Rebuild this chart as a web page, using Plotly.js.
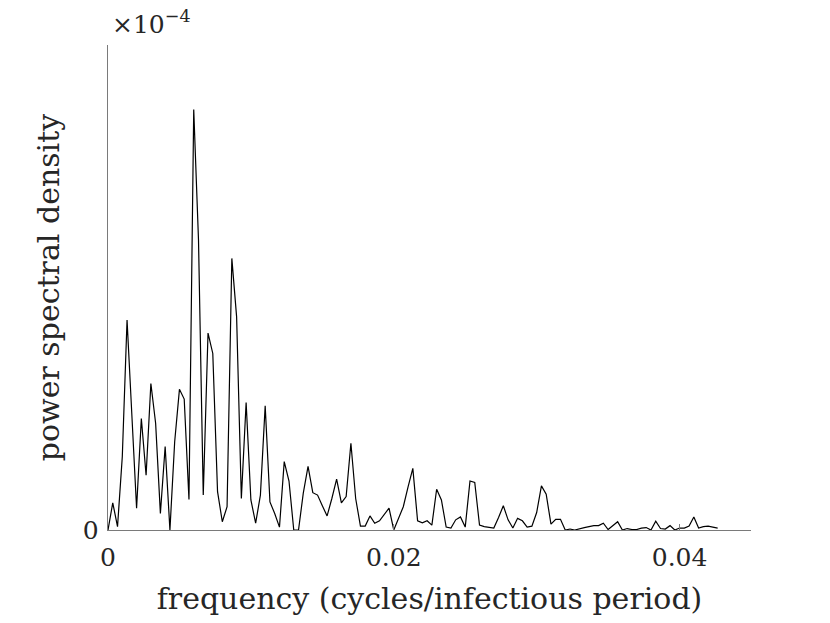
<!DOCTYPE html>
<html>
<head>
<meta charset="utf-8">
<script src="https://cdn.plot.ly/plotly-3.0.1.min.js"></script>
<style>html,body{margin:0;padding:0;background:#fff;}#chart{width:830px;height:623px;}</style>
</head>
<body>
<div id="chart"></div>
<script>
// frequency grid: first bin and bin width (cycles / infectious period)
const freqStart = 0;
const freqStep = 1 / 3000;
// power spectral density, in units of 1e-4
const psd = [
  0.000, 0.056, 0.007, 0.151, 0.433, 0.227, 0.045, 0.230, 0.113, 0.302,
  0.220, 0.034, 0.172, 0.000, 0.182, 0.290, 0.270, 0.063, 0.867, 0.598,
  0.072, 0.406, 0.364, 0.079, 0.017, 0.048, 0.560, 0.440, 0.065, 0.263,
  0.062, 0.014, 0.072, 0.256, 0.058, 0.034, 0.006, 0.141, 0.101, 0.000,
  0.000, 0.076, 0.131, 0.077, 0.072, 0.050, 0.029, 0.065, 0.105, 0.056,
  0.069, 0.179, 0.065, 0.008, 0.008, 0.029, 0.014, 0.019, 0.031, 0.045,
  0.000, 0.024, 0.048, 0.089, 0.127, 0.019, 0.015, 0.019, 0.010, 0.084,
  0.062, 0.006, 0.004, 0.021, 0.027, 0.006, 0.101, 0.098, 0.010, 0.007,
  0.006, 0.004, 0.026, 0.050, 0.021, 0.004, 0.024, 0.019, 0.006, 0.008,
  0.036, 0.091, 0.074, 0.012, 0.022, 0.022, 0.000, 0.002, 0.000, 0.003,
  0.005, 0.007, 0.009, 0.009, 0.014, 0.001, 0.010, 0.017, 0.000, 0.003,
  0.001, 0.001, 0.004, 0.005, 0.000, 0.018, 0.003, 0.002, 0.009, 0.000,
  0.004, 0.004, 0.008, 0.027, 0.004, 0.007, 0.008, 0.006, 0.004
];
const xTickVals = [0, 0.02, 0.04];
const xTickText = ['0', '0.02', '0.04'];
const yTickVals = [0];
const yTickText = ['0'];
const xTitle = 'frequency (cycles/infectious period)';
const yTitle = 'power spectral density';
const exponentLabel = '×10<sup>−4</sup>';

const FONT = '"DejaVu Serif", "Liberation Serif", serif';
const AX = '#7a7a7a';
const TXT = '#262626';

const trace = {
  type: 'scatter', mode: 'lines',
  x0: freqStart, dx: freqStep,
  y: psd,
  line: {color: '#000', width: 1.2},
  hoverinfo: 'skip'
};

const layout = {
  width: 830, height: 623,
  margin: {l: 108, r: 78.5, t: 45, b: 93, pad: 0},
  paper_bgcolor: '#fff', plot_bgcolor: '#fff',
  showlegend: false,
  font: {family: FONT, size: 25, color: TXT},
  xaxis: {
    range: [0, 0.045], showgrid: false, zeroline: false,
    showline: true, linecolor: AX, linewidth: 1.3, mirror: false,
    ticks: 'inside', ticklen: 6, tickcolor: AX, tickwidth: 1,
    tickmode: 'array', tickvals: xTickVals, ticktext: xTickText,
    tickfont: {family: FONT, size: 25, color: TXT},
    ticklabelstandoff: 5,
    title: {text: xTitle, font: {family: FONT, size: 30, color: TXT}, standoff: 16},
    automargin: false, fixedrange: true
  },
  yaxis: {
    range: [0, 1], showgrid: false, zeroline: false,
    showline: true, linecolor: AX, linewidth: 1.3, mirror: false,
    ticks: 'inside', ticklen: 6, tickcolor: AX, tickwidth: 1,
    tickmode: 'array', tickvals: yTickVals, ticktext: yTickText,
    tickfont: {family: FONT, size: 25, color: TXT},
    ticklabelstandoff: 3,
    title: {text: yTitle, font: {family: FONT, size: 30, color: TXT}, standoff: 14},
    automargin: false, fixedrange: true
  },
  annotations: [{
    text: exponentLabel, xref: 'paper', yref: 'paper', x: 0, y: 1,
    xanchor: 'left', yanchor: 'bottom', yshift: 4, xshift: 2, showarrow: false,
    font: {family: FONT, size: 25, color: TXT}
  }]
};

Plotly.newPlot('chart', [trace], layout, {displayModeBar: false, staticPlot: true});
</script>
</body>
</html>
